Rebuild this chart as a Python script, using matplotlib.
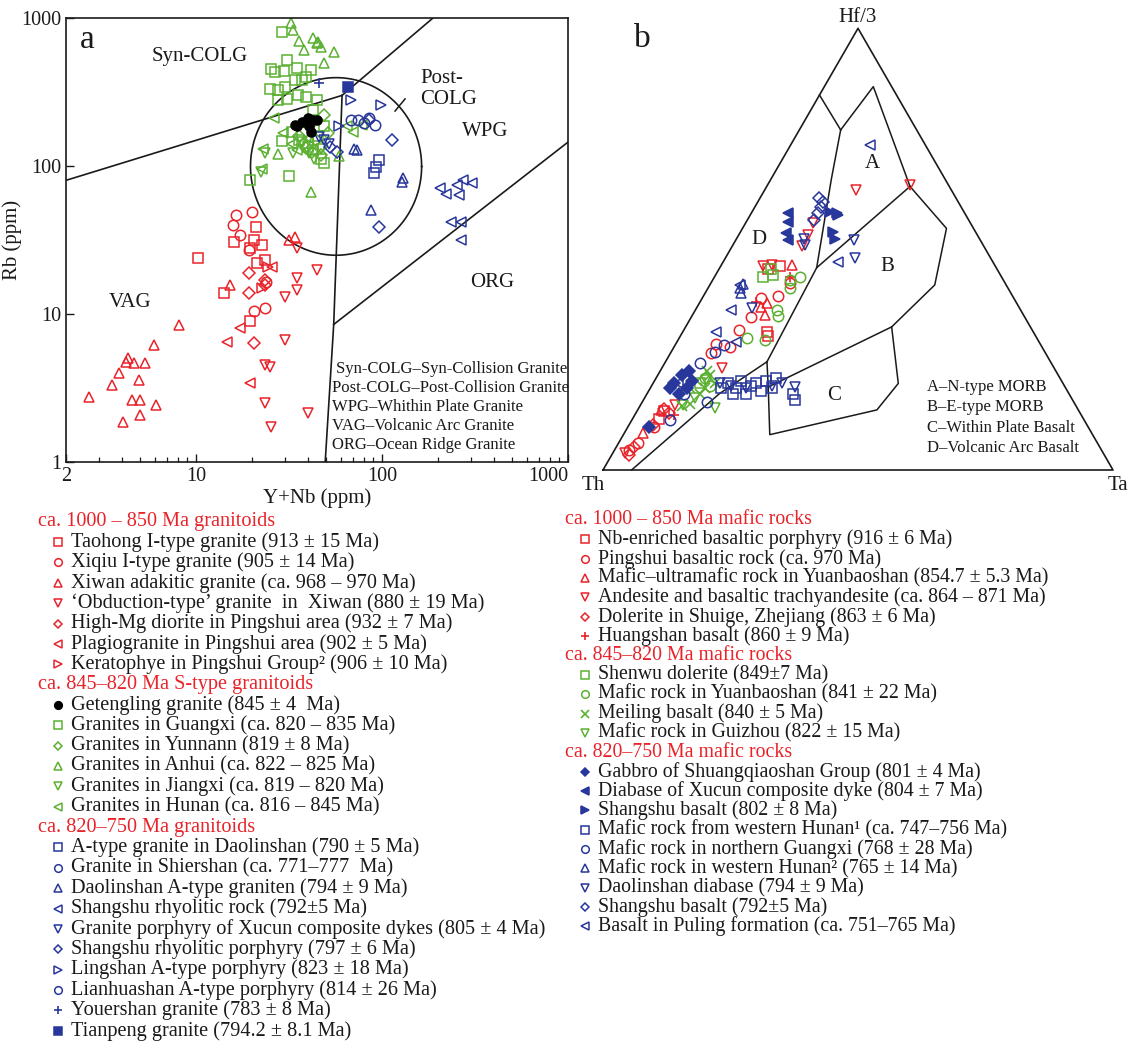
import numpy as np
import matplotlib
matplotlib.use('Agg')
import matplotlib.pyplot as plt
from matplotlib.ticker import NullLocator, LogLocator, NullFormatter

plt.rcParams['font.family'] = ['Liberation Serif', 'DejaVu Serif']

RED = '#e8232a'
GREEN = '#5bb031'
BLUE = '#28379b'
INK = '#1a1a1a'

# ---------------- panel a : Rb vs Y+Nb (ppm) ----------------
# 1000-850 Ma granitoids
taohong_x = [10.2, 14.1, 16.0, 19.6, 20.4, 21.1, 22.7, 21.3, 23.4, 19.5]
taohong_y = [24.0, 13.8, 30.5, 27.8, 31.6, 38.9, 29.3, 22.0, 23.2, 8.9]
xiqiu_x = [15.8, 16.4, 17.3, 20.1, 19.3, 20.4, 23.4, 23.7]
xiqiu_y = [39.9, 46.7, 34.2, 49.1, 27.0, 10.4, 10.9, 16.5]
xiwan_x = [2.67, 3.52, 3.86, 4.19, 4.33, 4.64, 5.33, 4.91, 4.53, 4.97, 4.04, 4.97,
           6.13, 5.98, 8.08, 15.3, 33.9, 31.6]
xiwan_y = [2.76, 3.31, 3.97, 4.76, 5.01, 4.64, 4.64, 3.58, 2.62, 2.62, 1.87, 2.07,
           2.43, 6.17, 8.43, 15.7, 33.3, 31.6]
obduct_x = [44.7, 34.7, 34.7, 30.2, 30.2, 23.4, 25.1, 23.4, 25.4, 39.8, 34.7]
obduct_y = [19.8, 17.4, 14.5, 13.1, 6.67, 4.52, 4.40, 2.49, 1.73, 2.13, 27.8]
highmg_x = [19.3, 19.3, 20.4, 23.6, 23.6]
highmg_y = [18.8, 13.8, 6.33, 17.0, 15.7]
plagio_x = [14.7, 17.3, 19.5, 25.6]
plagio_y = [6.50, 8.0, 3.40, 20.9]
kerato_x = [22.7, 24.5]
kerato_y = [15.0, 20.9]

# 845-820 Ma S-type granitoids
geteng_x = [34.7, 37.2, 39.8, 42.7, 40.4, 41.7, 44.7, 33.9]
geteng_y = [185, 199, 210, 205, 186, 171, 203, 189]
guangxi_x = [29.1, 30.9, 25.2, 26.5, 29.9, 34.7, 38.9, 41.7, 33.9, 37.2, 30.2, 27.5,
             24.9, 27.5, 30.9, 35.5, 44.7, 49.0, 42.7, 49.0, 19.6, 31.6, 42.7, 38.9,
             36.0, 45.0, 40.0, 33.0, 47.0, 29.0]
guangxi_y = [800, 520, 452, 434, 441, 457, 402, 445, 381, 381, 344, 327,
             330, 279, 282, 302, 279, 185, 128, 104, 81, 85, 239, 294,
             150, 160, 135, 170, 112, 148]
yunnan_x = [49.0, 40.7, 46.8, 51.3, 38.0, 44.0, 36.0, 42.0, 39.0, 47.0]
yunnan_y = [221, 185, 135, 166, 140, 150, 160, 125, 132, 118]
anhui_x = [32.4, 33.1, 42.7, 44.7, 46.8, 38.0, 55.1, 49.0, 41.7, 59.0, 27.5, 45.0, 36.0]
anhui_y = [920, 830, 729, 675, 640, 608, 593, 494, 67, 116, 121, 690, 700]
jiangxi_x = [23.4, 22.3, 33.1, 40.7, 37.0, 47.0, 43.0]
jiangxi_y = [122, 91.6, 122, 122, 145, 130, 112]
hunan_x = [26.2, 22.9, 22.5, 29.5, 64.7, 77.8, 70.0, 33.0, 40.0, 35.0]
hunan_y = [210, 131, 94.8, 166, 185, 189, 170, 140, 155, 128]

# 820-750 Ma granitoids
daolin_x = [95.9, 92.9, 90.8]
daolin_y = [109, 98.9, 90.1]
shiershan_x = [74.3, 80.0]
shiershan_y = [205, 195]
daolin_a_x = [71.0, 129, 87.5, 73.0, 128]
daolin_a_y = [131, 82.6, 50.5, 128, 78.0]
shangshu_r_x = [206, 220, 253, 271, 305, 261, 236, 265, 265]
shangshu_r_y = [70.6, 64.7, 74.4, 80.4, 77.1, 63.7, 42.1, 42.1, 31.6]
xucun_x = [49.0, 52.0, 46.0]
xucun_y = [150, 140, 158]
shangshu_p_x = [113, 95.9, 85.5, 52.6, 57.0]
shangshu_p_y = [150, 38.9, 205, 135, 125]
lingshan_x = [67.8, 98.2, 59.0]
lingshan_y = [279, 258, 186]
lianhua_x = [67.8, 91.6, 85.5]
lianhua_y = [203, 189, 210]
youer_x = [45.7]
youer_y = [362]
tianpeng_x = [65.3]
tianpeng_y = [344]

# Pearce et al. field boundaries
syn_vag_x, syn_vag_y = [2, 61], [80, 300]
syn_wpg_x, syn_wpg_y = [61, 188], [300, 1000]
vag_wpg_x, vag_wpg_y = [61, 55, 49.5], [300, 8.5, 1]
wpg_org_x, wpg_org_y = [55, 1000], [8.5, 145]
post_colg = (1.753, 1.997, 0.46, 0.60)   # log centre x, y and log radii

# ---------------- panel b : Th - Hf/3 - Ta (percent Hf/3, percent Ta) ----------------
nb_enr_hf = [45.6, 46.1, 31.3, 30.4, 11.5, 13.3]
nb_enr_ta = [9.6, 11.7, 16.5, 17.2, 5.2, 5.4]
pingshui_hf = [38.9, 39.3, 31.8, 28.6, 27.9, 26.4, 42.3, 9.8, 4.5, 6.0, 34.6]
pingshui_ta = [11.6, 14.6, 10.8, 7.9, 11.0, 8.0, 15.5, 5.1, 2.85, 3.8, 11.7]
yb_um_hf = [46.4, 37.8, 35.1, 8.3, 13.6, 37.0]
yb_um_ta = [13.8, 13.3, 14.2, 3.6, 4.5, 12.5]
andes_hf = [63.4, 64.5, 46.1, 46.4, 23.0, 53.2, 55.9, 14.7, 3.8, 50.8]
andes_ta = [17.9, 28.0, 8.3, 9.9, 11.8, 13.5, 13.2, 6.7, 2.5, 13.6]
shuige_hf = [3.3, 5.3, 10.2, 12.8, 13.9]
shuige_ta = [3.4, 3.4, 4.8, 6.6, 5.1]
huangshan_hf = [43.8, 12.5, 38.1]
huangshan_ta = [14.8, 7.7, 10.9]
shenwu_hf = [43.8, 44.1, 45.6, 19.6]
shenwu_ta = [9.5, 11.3, 10.1, 9.2]
yb_m_hf = [43.1, 43.8, 41.1, 36.3, 34.8, 29.4, 29.8, 20.8, 19.1]
yb_m_ta = [15.2, 16.7, 16.1, 16.0, 17.0, 17.1, 13.3, 9.6, 11.5]
meiling_hf = [20.2, 18.5, 21.4, 17.3, 19.6, 18.5, 22.5, 14.4, 15.0]
meiling_ta = [8.4, 10.8, 10.3, 10.3, 12.2, 7.8, 9.2, 8.3, 9.5]
guizhou_hf = [14.0, 20.3, 14.7, 16.2]
guizhou_ta = [15.0, 10.1, 8.4, 9.9]
gabbro_hf = [19.6, 21.4, 18.5, 17.3, 20.2, 18.5, 22.5, 9.8]
gabbro_ta = [4.2, 4.8, 7.3, 6.3, 7.4, 3.8, 5.7, 4.1]
diabase_hf = [58.1, 56.2, 53.6, 52.1]
diabase_ta = [7.3, 8.2, 9.1, 10.3]
shangshu_b_hf = [58.1, 57.7, 53.9, 52.4, 58.4]
shangshu_b_ta = [16.8, 17.2, 18.2, 19.3, 15.3]
whunan1_hf = [19.6, 18.5, 20.2, 19.1, 19.6, 17.9, 20.2, 18.5, 20.8, 17.3, 17.3, 17.3, 15.8, 18.5]
whunan1_ta = [14.7, 16.8, 16.9, 19.5, 20.2, 22.1, 21.9, 23.8, 23.6, 16.8, 19.3, 28.6, 29.7, 13.8]
nguangxi_hf = [11.3, 15.5, 26.8, 28.3, 17.3, 24.2]
nguangxi_ta = [7.4, 12.6, 8.6, 9.5, 7.3, 6.9]
whunan2_hf = [41.1, 40.0, 42.1]
whunan2_ta = [6.4, 7.1, 6.4]
daolin_db_hf = [52.1, 47.9, 18.8, 19.1, 18.5, 19.1, 19.6, 19.6, 50.9, 52.4, 36.6]
daolin_db_ta = [23.1, 25.4, 28.2, 15.5, 18.8, 23.5, 13.2, 25.2, 14.2, 13.2, 10.9]
shangshu_bd_hf = [61.5, 60.7, 59.6, 58.1, 56.6]
shangshu_bd_ta = [11.7, 12.7, 13.0, 13.1, 13.1]
puling_hf = [47.1, 73.6, 41.9, 36.3, 31.3, 19.6, 28.9]
puling_ta = [22.5, 15.6, 6.0, 6.9, 6.6, 4.9, 11.6]

# Wood (1980) field boundaries, as (Hf/3 %, Ta %)
d_line = [(0, 5.6), (17.3, 14.2), (24.5, 19.9)]
east_line = [(24.5, 19.9), (45.8, 19.0), (65.7, 11.9), (77.0, 8.1)]
d_split = [(84.9, 0.0), (77.0, 8.1)]
a_outer = [(77.0, 8.1), (86.8, 9.6), (64.2, 28.1)]
ab_line = [(45.8, 19.0), (64.2, 28.1)]
b_outer = [(64.2, 28.1), (54.7, 40.0), (41.9, 44.1), (32.4, 40.4), (18.8, 23.0), (24.5, 19.9)]
c_outer = [(32.4, 40.4), (19.6, 48.1), (13.6, 46.9), (8.0, 28.7), (18.8, 23.0)]

# ---------------- legends ----------------
left_legend = [
    ('ca. 1000 – 850 Ma granitoids', None, None, False),
    ('Taohong I-type granite (913 ± 15 Ma)', 's', RED, False),
    ('Xiqiu I-type granite (905 ± 14 Ma)', 'o', RED, False),
    ('Xiwan adakitic granite (ca. 968 – 970 Ma)', '^', RED, False),
    ('‘Obduction-type’ granite  in  Xiwan (880 ± 19 Ma)', 'v', RED, False),
    ('High-Mg diorite in Pingshui area (932 ± 7 Ma)', 'D', RED, False),
    ('Plagiogranite in Pingshui area (902 ± 5 Ma)', '<', RED, False),
    ('Keratophye in Pingshui Group² (906 ± 10 Ma)', '>', RED, False),
    ('ca. 845–820 Ma S-type granitoids', None, None, False),
    ('Getengling granite (845 ± 4  Ma)', 'o', 'black', True),
    ('Granites in Guangxi (ca. 820 – 835 Ma)', 's', GREEN, False),
    ('Granites in Yunnann (819 ± 8 Ma)', 'D', GREEN, False),
    ('Granites in Anhui (ca. 822 – 825 Ma)', '^', GREEN, False),
    ('Granites in Jiangxi (ca. 819 – 820 Ma)', 'v', GREEN, False),
    ('Granites in Hunan (ca. 816 – 845 Ma)', '<', GREEN, False),
    ('ca. 820–750 Ma granitoids', None, None, False),
    ('A-type granite in Daolinshan (790 ± 5 Ma)', 's', BLUE, False),
    ('Granite in Shiershan (ca. 771–777  Ma)', 'o', BLUE, False),
    ('Daolinshan A-type graniten (794 ± 9 Ma)', '^', BLUE, False),
    ('Shangshu rhyolitic rock (792±5 Ma)', '<', BLUE, False),
    ('Granite porphyry of Xucun composite dykes (805 ± 4 Ma)', 'v', BLUE, False),
    ('Shangshu rhyolitic porphyry (797 ± 6 Ma)', 'D', BLUE, False),
    ('Lingshan A-type porphyry (823 ± 18 Ma)', '>', BLUE, False),
    ('Lianhuashan A-type porphyry (814 ± 26 Ma)', 'o', BLUE, False),
    ('Youershan granite (783 ± 8 Ma)', '+', BLUE, False),
    ('Tianpeng granite (794.2 ± 8.1 Ma)', 's', BLUE, True),
]
right_legend = [
    ('ca. 1000 – 850 Ma mafic rocks', None, None, False),
    ('Nb-enriched basaltic porphyry (916 ± 6 Ma)', 's', RED, False),
    ('Pingshui basaltic rock (ca. 970 Ma)', 'o', RED, False),
    ('Mafic–ultramafic rock in Yuanbaoshan (854.7 ± 5.3 Ma)', '^', RED, False),
    ('Andesite and basaltic trachyandesite (ca. 864 – 871 Ma)', 'v', RED, False),
    ('Dolerite in Shuige, Zhejiang (863 ± 6 Ma)', 'D', RED, False),
    ('Huangshan basalt (860 ± 9 Ma)', '+', RED, False),
    ('ca. 845–820 Ma mafic rocks', None, None, False),
    ('Shenwu dolerite (849±7 Ma)', 's', GREEN, False),
    ('Mafic rock in Yuanbaoshan (841 ± 22 Ma)', 'o', GREEN, False),
    ('Meiling basalt (840 ± 5 Ma)', 'x', GREEN, False),
    ('Mafic rock in Guizhou (822 ± 15 Ma)', 'v', GREEN, False),
    ('ca. 820–750 Ma mafic rocks', None, None, False),
    ('Gabbro of Shuangqiaoshan Group (801 ± 4 Ma)', 'D', BLUE, True),
    ('Diabase of Xucun composite dyke (804 ± 7 Ma)', '<', BLUE, True),
    ('Shangshu basalt (802 ± 8 Ma)', '>', BLUE, True),
    ('Mafic rock from western Hunan¹ (ca. 747–756 Ma)', 's', BLUE, False),
    ('Mafic rock in northern Guangxi (768 ± 28 Ma)', 'o', BLUE, False),
    ('Mafic rock in western Hunan² (765 ± 14 Ma)', '^', BLUE, False),
    ('Daolinshan diabase (794 ± 9 Ma)', 'v', BLUE, False),
    ('Shangshu basalt (792±5 Ma)', 'D', BLUE, False),
    ('Basalt in Puling formation (ca. 751–765 Ma)', '<', BLUE, False),
]
# row positions (pixels from top)
left_rows = [521.7 + i * 20.36 for i in range(len(left_legend))]
right_rows = [520 + i * 19.35 for i in range(len(right_legend))]

W, H = 1128, 1042
fig = plt.figure(figsize=(W / 100, H / 100), dpi=100)


def px_axes(left, top, right, bottom, **kw):
    return fig.add_axes([left / W, 1 - bottom / H, (right - left) / W, (bottom - top) / H], **kw)


def pts(ax, x, y, marker, color, filled=False, ms=7.5):
    if marker in ('D',):
        ms = ms * 0.8
    if marker in ('+', 'x'):
        ax.plot(x, y, ls='none', marker=marker, color=color, ms=ms, mew=1.2)
    else:
        ax.plot(x, y, ls='none', marker=marker, ms=ms, mew=1.1, mec=color,
                mfc=color if filled else 'none')


# ---------- panel a ----------
axa = px_axes(66, 18, 568, 462)
axa.set_xscale('log')
axa.set_yscale('log')
axa.set_xlim(2, 1000)
axa.set_ylim(1, 1000)

for lx, ly in [(syn_vag_x, syn_vag_y), (syn_wpg_x, syn_wpg_y),
               (vag_wpg_x, vag_wpg_y), (wpg_org_x, wpg_org_y)]:
    axa.plot(lx, ly, color=INK, lw=1.2, zorder=1)
t = np.linspace(0, 2 * np.pi, 300)
cx, cy, rx, ry = post_colg
axa.plot(10 ** (cx + rx * np.cos(t)), 10 ** (cy + ry * np.sin(t)), color=INK, lw=1.2, zorder=1)

groups_a = [
    (taohong_x, taohong_y, 's', RED, False), (xiqiu_x, xiqiu_y, 'o', RED, False),
    (xiwan_x, xiwan_y, '^', RED, False), (obduct_x, obduct_y, 'v', RED, False),
    (highmg_x, highmg_y, 'D', RED, False), (plagio_x, plagio_y, '<', RED, False),
    (kerato_x, kerato_y, '>', RED, False),
    (guangxi_x, guangxi_y, 's', GREEN, False), (yunnan_x, yunnan_y, 'D', GREEN, False),
    (anhui_x, anhui_y, '^', GREEN, False), (jiangxi_x, jiangxi_y, 'v', GREEN, False),
    (hunan_x, hunan_y, '<', GREEN, False),
    (daolin_x, daolin_y, 's', BLUE, False), (shiershan_x, shiershan_y, 'o', BLUE, False),
    (daolin_a_x, daolin_a_y, '^', BLUE, False), (shangshu_r_x, shangshu_r_y, '<', BLUE, False),
    (xucun_x, xucun_y, 'v', BLUE, False), (shangshu_p_x, shangshu_p_y, 'D', BLUE, False),
    (lingshan_x, lingshan_y, '>', BLUE, False), (lianhua_x, lianhua_y, 'o', BLUE, False),
    (youer_x, youer_y, '+', BLUE, False), (tianpeng_x, tianpeng_y, 's', BLUE, True),
    (geteng_x, geteng_y, 'o', 'black', True),
]
for gx, gy, mk, col, fl in groups_a:
    pts(axa, gx, gy, mk, col, fl, ms=7.5 if not (mk == 'o' and fl) else 6.5)

axa.set_xticks([2, 10, 100, 1000])
axa.set_xticklabels(['2', '10', '100', '1000'])
axa.get_xticklabels()[-1].set_horizontalalignment('right')
axa.set_yticks([1, 10, 100, 1000])
axa.set_yticklabels(['1', '10', '100', '1000'])
axa.xaxis.set_minor_locator(LogLocator(base=10, subs=np.arange(2, 10)))
axa.xaxis.set_minor_formatter(NullFormatter())
axa.yaxis.set_minor_locator(NullLocator())
axa.tick_params(which='both', direction='in', labelsize=14.5, colors=INK)
axa.tick_params(which='major', length=6, width=1)
axa.tick_params(which='minor', length=3.5, width=0.9)
for s in axa.spines.values():
    s.set_linewidth(1.2)
    s.set_color(INK)
axa.set_xlabel('Y+Nb (ppm)', fontsize=15, labelpad=2, color=INK)
axa.set_ylabel('Rb (ppm)', fontsize=15, color=INK)
axa.yaxis.set_label_coords(-0.088, 0.5)

axa.text(0.028, 0.95, 'a', transform=axa.transAxes, fontsize=24, va='center', color=INK)
axa.text(10.5, 553, 'Syn-COLG', fontsize=15, ha='center', va='center', color=INK)
axa.text(160, 330, 'Post-\nCOLG', fontsize=15, ha='left', va='center', color=INK,
         linespacing=1.15)
axa.plot([133, 117.5], [284, 235], color=INK, lw=1.1)
axa.text(358, 172, 'WPG', fontsize=15, ha='center', va='center', color=INK)
axa.text(390, 16.4, 'ORG', fontsize=15, ha='center', va='center', color=INK)
axa.text(4.42, 12.0, 'VAG', fontsize=15, ha='center', va='center', color=INK)
abbrev = ['Syn-COLG–Syn-Collision Granite', 'Post-COLG–Post-Collision Granite',
          'WPG–Whithin Plate Granite', 'VAG–Volcanic Arc Granite', 'ORG–Ocean Ridge Granite']
for i, s in enumerate(abbrev):
    axa.text(0.538 if i == 0 else 0.530, 0.209 - i * 0.0425, s, transform=axa.transAxes,
             fontsize=12, va='center', ha='left', color=INK)

# ---------- panel b ----------
axb = px_axes(577.5, 0.8, 1128.3, 500.6)
axb.set_xlim(-0.05, 1.03)
axb.set_ylim(-0.06, 0.92)
axb.axis('off')
r3 = np.sqrt(3) / 2


def tern(hf, ta):
    hf = np.asarray(hf, float) / 100
    ta = np.asarray(ta, float) / 100
    return ta + hf / 2, hf * r3


axb.plot([0, 1, 0.5, 0], [0, 0, r3, 0], color=INK, lw=1.2)
for line in [d_line, east_line, d_split, a_outer, ab_line, b_outer, c_outer]:
    hf, ta = zip(*line)
    bx, by = tern(hf, ta)
    axb.plot(bx, by, color=INK, lw=1.1)

groups_b = [
    (nb_enr_hf, nb_enr_ta, 's', RED, False), (pingshui_hf, pingshui_ta, 'o', RED, False),
    (yb_um_hf, yb_um_ta, '^', RED, False), (andes_hf, andes_ta, 'v', RED, False),
    (shuige_hf, shuige_ta, 'D', RED, False), (huangshan_hf, huangshan_ta, '+', RED, False),
    (shenwu_hf, shenwu_ta, 's', GREEN, False), (yb_m_hf, yb_m_ta, 'o', GREEN, False),
    (meiling_hf, meiling_ta, 'x', GREEN, False), (guizhou_hf, guizhou_ta, 'v', GREEN, False),
    (whunan1_hf, whunan1_ta, 's', BLUE, False), (nguangxi_hf, nguangxi_ta, 'o', BLUE, False),
    (whunan2_hf, whunan2_ta, '^', BLUE, False), (daolin_db_hf, daolin_db_ta, 'v', BLUE, False),
    (shangshu_bd_hf, shangshu_bd_ta, 'D', BLUE, False), (puling_hf, puling_ta, '<', BLUE, False),
    (gabbro_hf, gabbro_ta, 'D', BLUE, True), (diabase_hf, diabase_ta, '<', BLUE, True),
    (shangshu_b_hf, shangshu_b_ta, '>', BLUE, True),
]
for hf, ta, mk, col, fl in groups_b:
    bx, by = tern(hf, ta)
    pts(axb, bx, by, mk, col, fl, ms=7.5)

axb.text(0.06, 0.845, 'b', fontsize=24, va='center', color=INK)
axb.text(0.5, r3 + 0.003, 'Hf/3', fontsize=15, ha='center', va='bottom', color=INK)
axb.text(-0.02, -0.012, 'Th', fontsize=15, ha='center', va='top', color=INK)
axb.text(1.01, -0.012, 'Ta', fontsize=15, ha='center', va='top', color=INK)
for lab, (lx, ly) in zip('ABCD', [(0.529, 0.601), (0.557, 0.399), (0.453, 0.147), (0.305, 0.451)]):
    axb.text(lx, ly, lab, fontsize=15, ha='center', va='center', color=INK)
field_names = ['A–N-type MORB', 'B–E-type MORB', 'C–Within Plate Basalt', 'D–Volcanic Arc Basalt']
for i, s in enumerate(field_names):
    axb.text(0.635, 0.163 - i * 0.04, s, fontsize=12, ha='left', va='center', color=INK)

# ---------- legends below ----------
ov = px_axes(0, 0, W, H, zorder=-5)
ov.set_xlim(0, W)
ov.set_ylim(H, 0)
ov.axis('off')


def draw_legend(entries, rows, x_head, x_mark, x_text, fs):
    for (lab, mk, col, fl), y in zip(entries, rows):
        if mk is None:
            ov.text(x_head, y, lab, fontsize=fs, color=RED, va='center', ha='left')
        else:
            pts(ov, [x_mark], [y], mk, col, fl, ms=5.5)
            ov.text(x_text, y, lab, fontsize=fs, color=INK, va='center', ha='left')


draw_legend(left_legend, left_rows, 38, 58, 71, 14.6)
draw_legend(right_legend, right_rows, 565, 584.5, 598, 14.3)

fig.savefig('out.png', dpi=100)
